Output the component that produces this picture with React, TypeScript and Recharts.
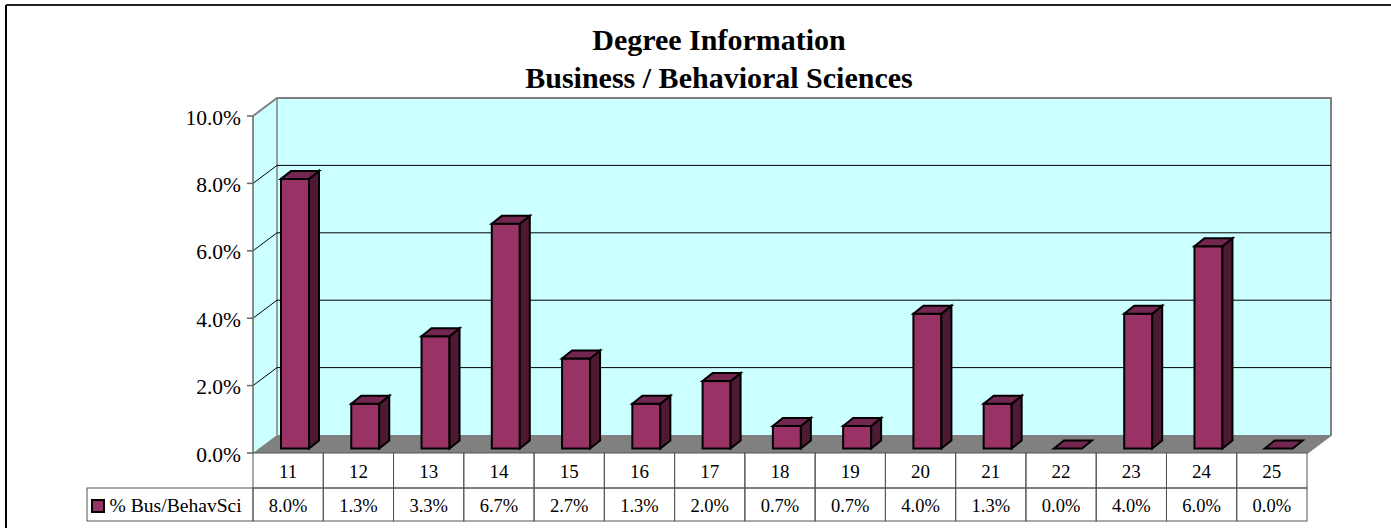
import React from "react";
import { BarChart, Bar, XAxis, YAxis, CartesianGrid, usePlotArea } from "recharts";

const categories = ["11", "12", "13", "14", "15", "16", "17", "18", "19", "20", "21", "22", "23", "24", "25"];
const busBehavSci = [0.08, 0.0133, 0.0333, 0.0667, 0.0267, 0.0133, 0.02, 0.0067, 0.0067, 0.04, 0.0133, 0, 0.04, 0.06, 0];
const valueLabels = ["8.0%", "1.3%", "3.3%", "6.7%", "2.7%", "1.3%", "2.0%", "0.7%", "0.7%", "4.0%", "1.3%", "0.0%", "4.0%", "6.0%", "0.0%"];
const yTicks = [0, 0.02, 0.04, 0.06, 0.08, 0.1];
const seriesName = "% Bus/BehavSci";
const titleLines = ["Degree Information", "Business / Behavioral Sciences"];

const data = categories.map((c, i) => ({ cat: c, value: busBehavSci[i] }));

const W = 1391;
const H = 528;
const FONT = "'Liberation Serif', 'Times New Roman', serif";
const DX = 24;
const DY = 18;
const ROW1 = 35;
const ROW2 = 33;
const LEGEND_X = 87;
const CELL = "#555555";

function Walls() {
  const p = usePlotArea();
  if (!p) return null;
  const { x, y, width: w, height: h } = p;
  const r = x + w;
  const b = y + h;
  return (
    <g>
      <polygon points={`${x},${y} ${x + DX},${y - DY} ${x + DX},${b - DY} ${x},${b}`} fill="#ccffff" stroke="none" />
      <rect x={x + DX} y={y - DY} width={w} height={h} fill="#ccffff" stroke="none" />
      <polygon points={`${x},${b} ${x + DX},${b - DY} ${r + DX},${b - DY} ${r},${b}`} fill="#808080" stroke="none" />
      <path d={`M${x},${y}L${x + DX},${y - DY}H${r + DX}V${b - DY}L${r},${b}`} fill="none" stroke="#808080" strokeWidth={2} />
      <line x1={x + DX} y1={y - DY} x2={x + DX} y2={b - DY} stroke="#808080" strokeWidth={1.5} />
    </g>
  );
}

function GridLine(props: any) {
  const { x1, x2, y1, index } = props;
  const inner = y1 != null && y1 > 117 && y1 < 452;
  return (
    <g>
      {index === 0 && <Walls />}
      {inner && (
        <path d={`M${x1},${y1}L${x1 + DX},${y1 - DY}H${x2 + DX}`} fill="none" stroke="#000000" strokeWidth={1} />
      )}
    </g>
  );
}

function Bar3D(props: any) {
  const { x, y, width, height } = props;
  const ox = 7;
  const oy = 4.5;
  const dx = 10;
  const dy = 8;
  const l = x + ox;
  const r = l + width;
  const t = y - oy;
  const b = t + height;
  return (
    <g stroke="#000000" strokeWidth={2} strokeLinejoin="miter">
      {height > 0.5 && <rect x={l} y={t} width={width} height={height} fill="#993366" />}
      {height > 0.5 && (
        <polygon points={`${r},${t} ${r + dx},${t - dy} ${r + dx},${b - dy} ${r},${b}`} fill="#4d1933" />
      )}
      <polygon points={`${l},${t} ${l + dx},${t - dy} ${r + dx},${t - dy} ${r},${t}`} fill="#732650" />
    </g>
  );
}

function TableTick(props: any) {
  const { x, y, index, payload } = props;
  const band = (1307 - 253) / categories.length;
  const left = x - band / 2;
  const top = y;
  return (
    <g>
      <rect x={left} y={top} width={band} height={ROW1} fill="none" stroke={CELL} strokeWidth={1} />
      <rect x={left} y={top + ROW1} width={band} height={ROW2} fill="none" stroke={CELL} strokeWidth={1} />
      <text x={x} y={top + 25} textAnchor="middle" fontFamily={FONT} fontSize={19} fill="#000">
        {payload.value}
      </text>
      <text x={x} y={top + ROW1 + 24} textAnchor="middle" fontFamily={FONT} fontSize={18.5} fill="#000">
        {valueLabels[index]}
      </text>
    </g>
  );
}

function Extras() {
  const p = usePlotArea();
  if (!p) return null;
  const b = p.y + p.height;
  const cx = 719;
  return (
    <g>
      <line x1={6} y1={5} x2={W} y2={5} stroke="#222" strokeWidth={2} />
      <line x1={6} y1={5} x2={6} y2={H} stroke="#000" strokeWidth={2} />
      <text x={cx} y={50} textAnchor="middle" fontFamily={FONT} fontWeight="bold" fontSize={30} fill="#000">
        {titleLines[0]}
      </text>
      <text x={cx} y={88} textAnchor="middle" fontFamily={FONT} fontWeight="bold" fontSize={30} fill="#000">
        {titleLines[1]}
      </text>
      <rect x={LEGEND_X} y={b + ROW1} width={p.x - LEGEND_X} height={ROW2} fill="none" stroke={CELL} strokeWidth={1} />
      <rect x={92} y={b + ROW1 + 12} width={12} height={12} fill="#993366" stroke="#000" strokeWidth={2} />
      <text x={109.5} y={b + ROW1 + 24} fontFamily={FONT} fontSize={19.6} fill="#000">
        {seriesName}
      </text>
    </g>
  );
}

export default function App() {
  return (
    <div style={{ position: "absolute", left: 0, top: 0, width: W, height: H }}>
      <BarChart
        width={W}
        height={H}
        data={data}
        margin={{ top: 116, right: 84, bottom: 0, left: 0 }}
        barCategoryGap={0}
      >
        <CartesianGrid vertical={false} horizontal={(props: any) => <GridLine {...props} />} />
        <XAxis
          dataKey="cat"
          height={75}
          interval={0}
          axisLine={false}
          tickLine={false}
          tickSize={0}
          tickMargin={0}
          tick={(props: any) => <TableTick {...props} />}
        />
        <YAxis
          width={253}
          domain={[0, 0.1]}
          ticks={yTicks}
          interval={0}
          tickFormatter={(v: number) => `${(v * 100).toFixed(1)}%`}
          tick={{ fontFamily: FONT, fontSize: 21.5, fill: "#000", dy: 1 }}
          tickSize={6}
          tickMargin={6}
          axisLine={{ stroke: "#666666", strokeWidth: 1.5 }}
          tickLine={{ stroke: "#666666", strokeWidth: 1.5 }}
        />
        <Bar dataKey="value" barSize={28} isAnimationActive={false} shape={(props: any) => <Bar3D {...props} />} />
        <Extras />
      </BarChart>
    </div>
  );
}
